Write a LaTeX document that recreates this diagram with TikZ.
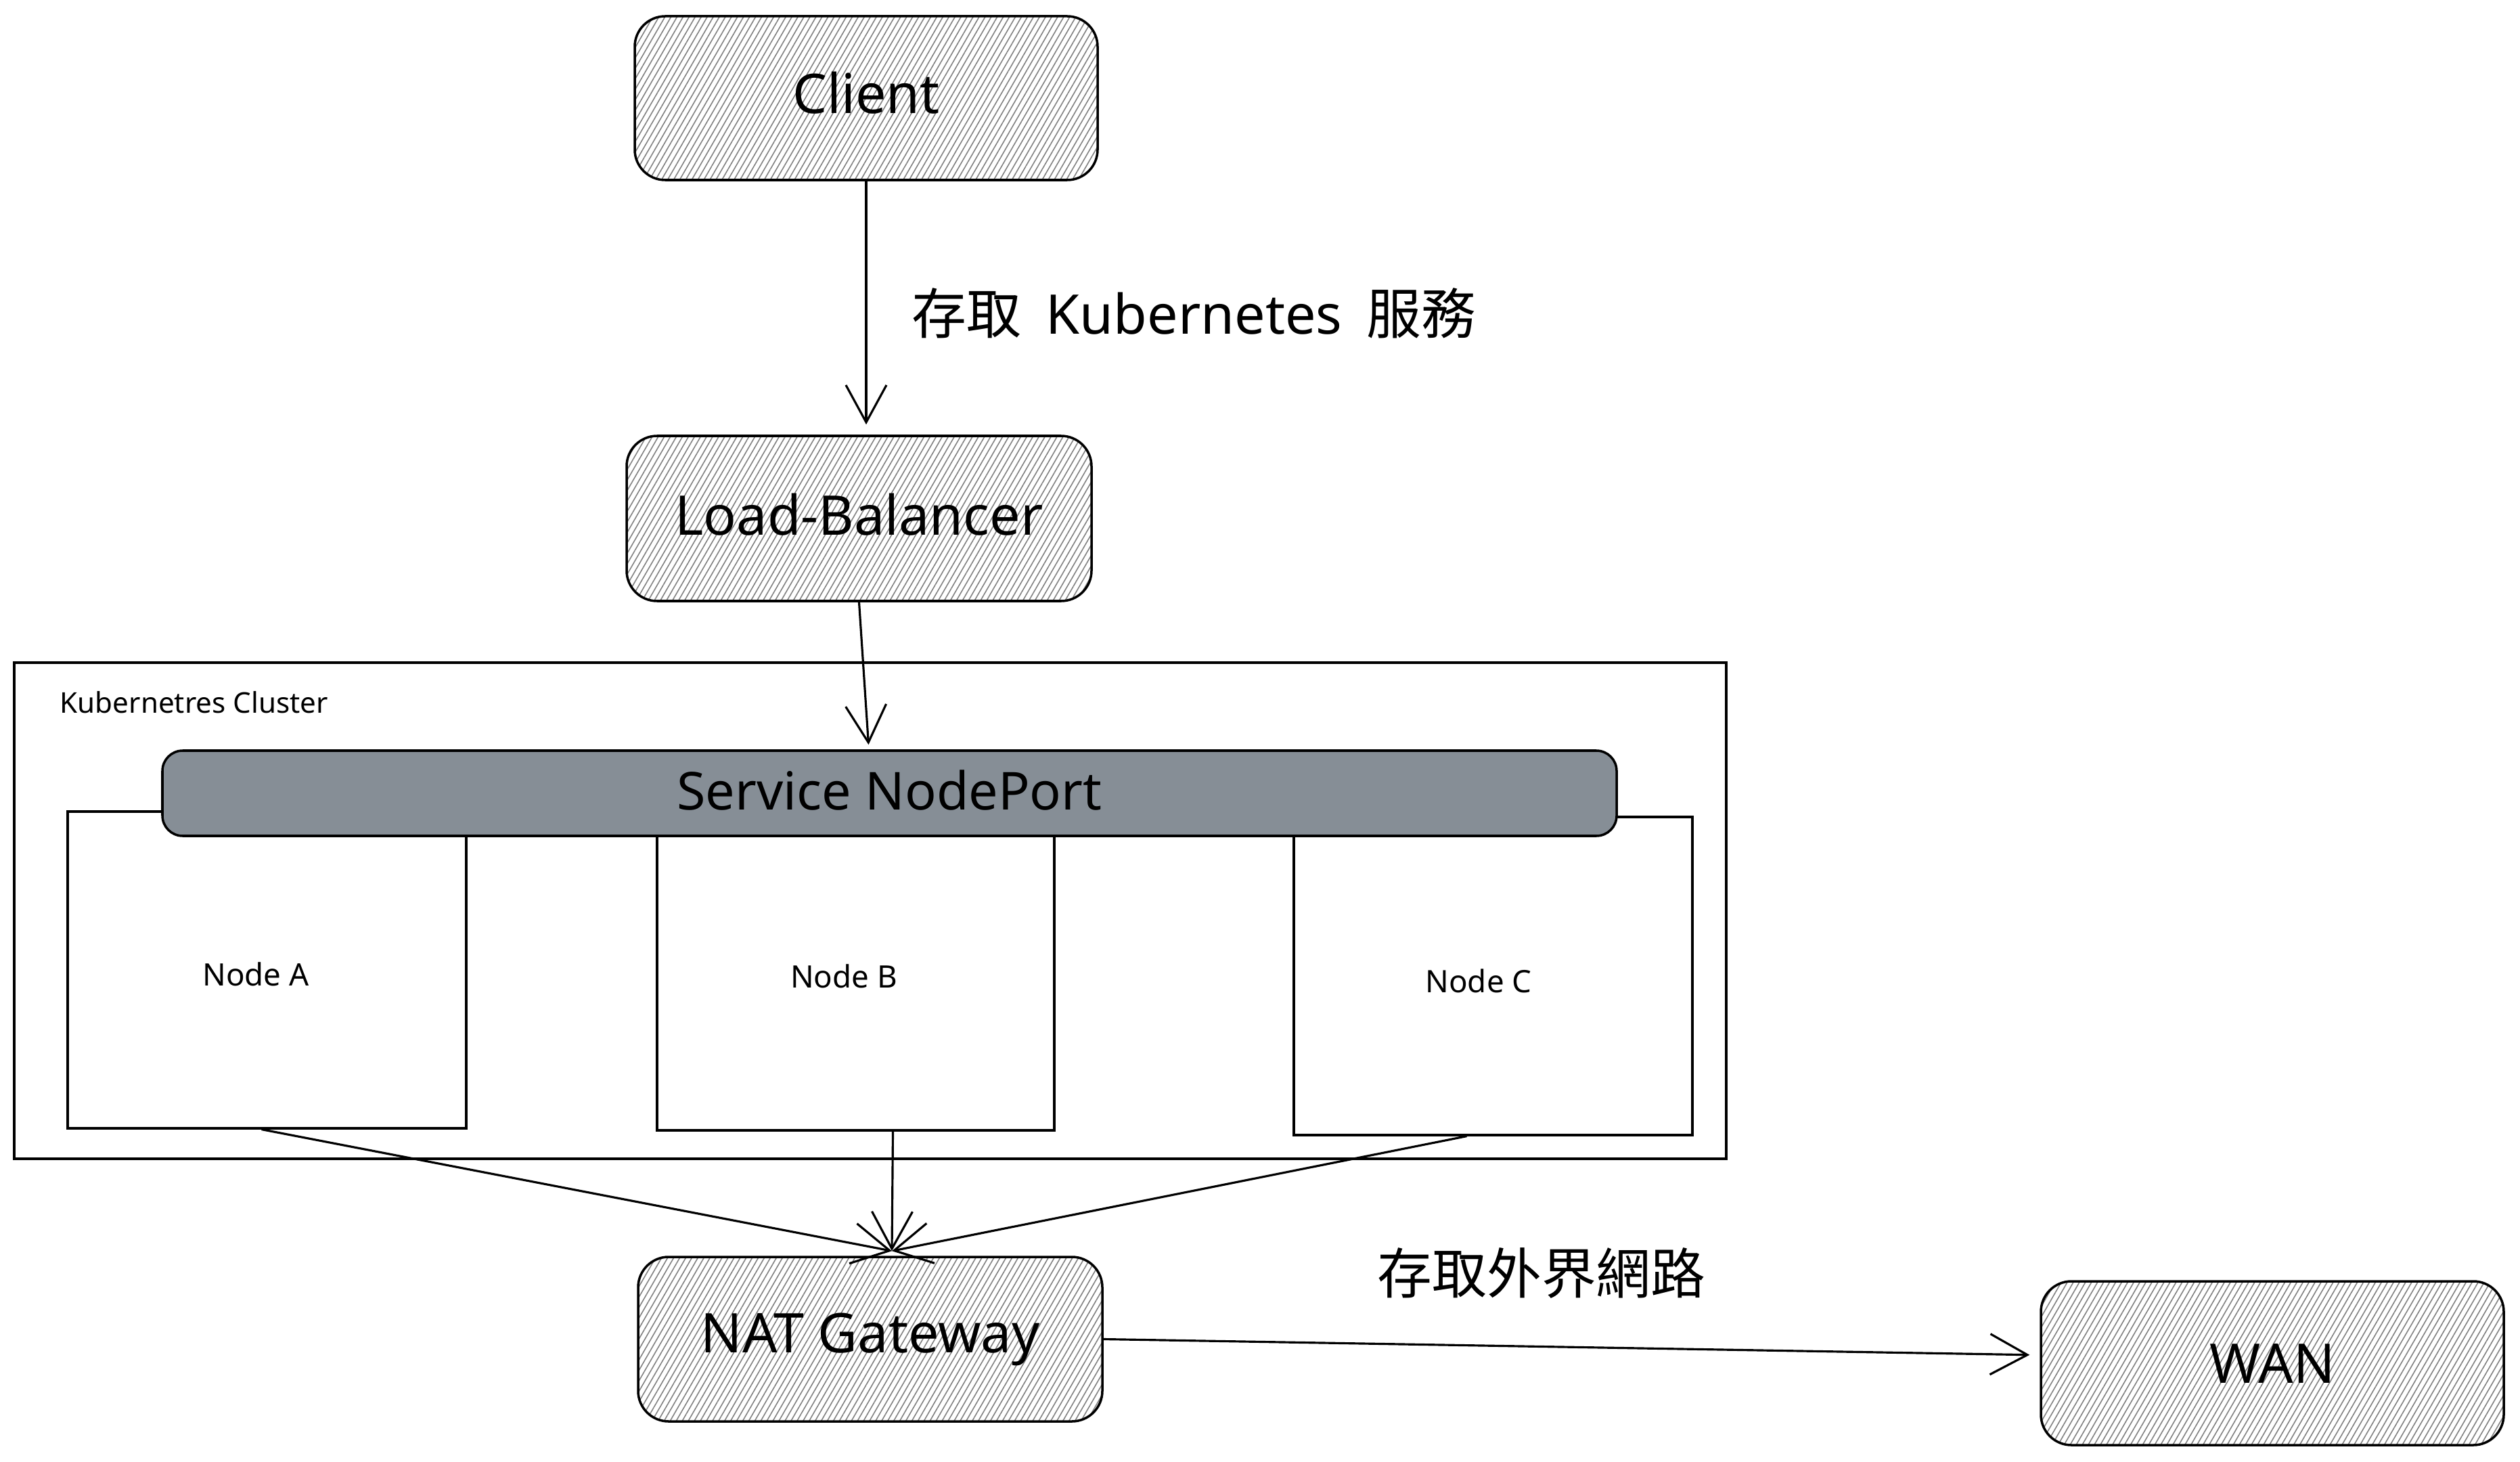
\documentclass[tikz,border=0pt]{standalone}
\usepackage{fontspec}
\setmainfont{Noto Sans}
\newfontfamily\cjk{Noto Sans CJK TC}
\usetikzlibrary{arrows.meta,patterns.meta}
\definecolor{svcgray}{RGB}{134,142,150}
\begin{document}
\begin{tikzpicture}[
  hatchbox/.style={draw=black, line width=1pt, rounded corners=0.45cm,
    pattern={Lines[angle=60,distance=2.2pt,line width=0.45pt]}, pattern color=black!50,
    font=\fontsize{23}{27}\selectfont, inner sep=0pt},
  clusterbox/.style={draw=black, line width=1.2pt, inner sep=0pt},
  nodebox/.style={draw=black, line width=0.9pt, fill=white, inner sep=0pt},
  nodetext/.style={font=\fontsize{13}{16}\selectfont, inner sep=0pt},
  svcbox/.style={draw=black, line width=1pt, fill=svcgray, rounded corners=0.3cm,
    inner sep=0pt, font=\fontsize{22}{26}\selectfont},
  lbl/.style={font=\fontsize{23}{28}\selectfont, inner sep=0pt},
  smalllbl/.style={font=\fontsize{12}{15}\selectfont, inner sep=0pt},
  arr/.style={draw=black, line width=0.9pt, -{Straight Barb[length=0.55cm,width=0.6cm]}}
]
\useasboundingbox[fill=white] (0,0) rectangle (37.24,-21.6);

% top
\node[hatchbox, minimum width=6.84cm, minimum height=2.42cm] (client) at (12.80,-1.45) {};
\node (clientt) at ([yshift=0.08cm]client.center) [font=\fontsize{23}{27}\selectfont, inner sep=0pt] {Client};
\node[hatchbox, minimum width=6.87cm, minimum height=2.44cm] (lb) at (12.695,-7.66) {};
\node (lbt) at ([yshift=0.06cm]lb.center) [font=\fontsize{23}{27}\selectfont, inner sep=0pt] {Load-Balancer};

% cluster
\node[clusterbox, minimum width=25.30cm, minimum height=7.33cm] (cluster) at (12.86,-13.455) {};
\node[smalllbl, anchor=west] (clabel) at (0.88,-10.38) {Kubernetres Cluster};
\node[nodebox, minimum width=5.89cm, minimum height=4.68cm] (nodeA) at (3.945,-14.33) {};
\node[nodebox, minimum width=5.87cm, minimum height=4.71cm] (nodeB) at (12.645,-14.345) {};
\node[nodebox, minimum width=5.89cm, minimum height=4.70cm] (nodeC) at (22.065,-14.42) {};
\node[nodetext] (nodeAt) at (3.78,-14.39) {Node A};
\node[nodetext] (nodeBt) at (12.47,-14.42) {Node B};
\node[nodetext] (nodeCt) at (21.85,-14.49) {Node C};
\node[svcbox, minimum width=21.49cm, minimum height=1.26cm] (svc) at (13.145,-11.72) {};
\node (svct) at ([yshift=0.05cm]svc.center) [font=\fontsize{22}{26}\selectfont, inner sep=0pt] {Service NodePort};

% bottom
\node[hatchbox, minimum width=6.86cm, minimum height=2.43cm] (nat) at (12.86,-19.785) {NAT Gateway};
\node[hatchbox, minimum width=6.84cm, minimum height=2.42cm] (wan) at (33.58,-20.14) {WAN};

% connectors
\draw[arr, shorten >=0.15cm] (client.south) -- (client.south |- lb.north);
\node[lbl, anchor=west] (l1) at (13.47,-4.63) {{\cjk 存取}\hspace{0.45em}Kubernetes\hspace{0.45em}{\cjk 服務}};
\draw[arr] (lb.south) -- ([xshift=-0.31cm,yshift=0.07cm]svc.north);

\coordinate (natin) at ([xshift=0.32cm,yshift=0.07cm]nat.north);
\draw[arr] ([xshift=-0.08cm]nodeA.south) -- (natin);
\draw[arr] ([xshift=0.55cm]nodeB.south) -- (natin);
\draw[arr] ([xshift=-0.39cm]nodeC.south) -- (natin);

\draw[arr, shorten >=0.15cm] (nat.east) -- ([yshift=0.12cm]wan.west);
\node[lbl] (l2) at (22.78,-18.81) {\cjk 存取外界網路};
\end{tikzpicture}
\end{document}
